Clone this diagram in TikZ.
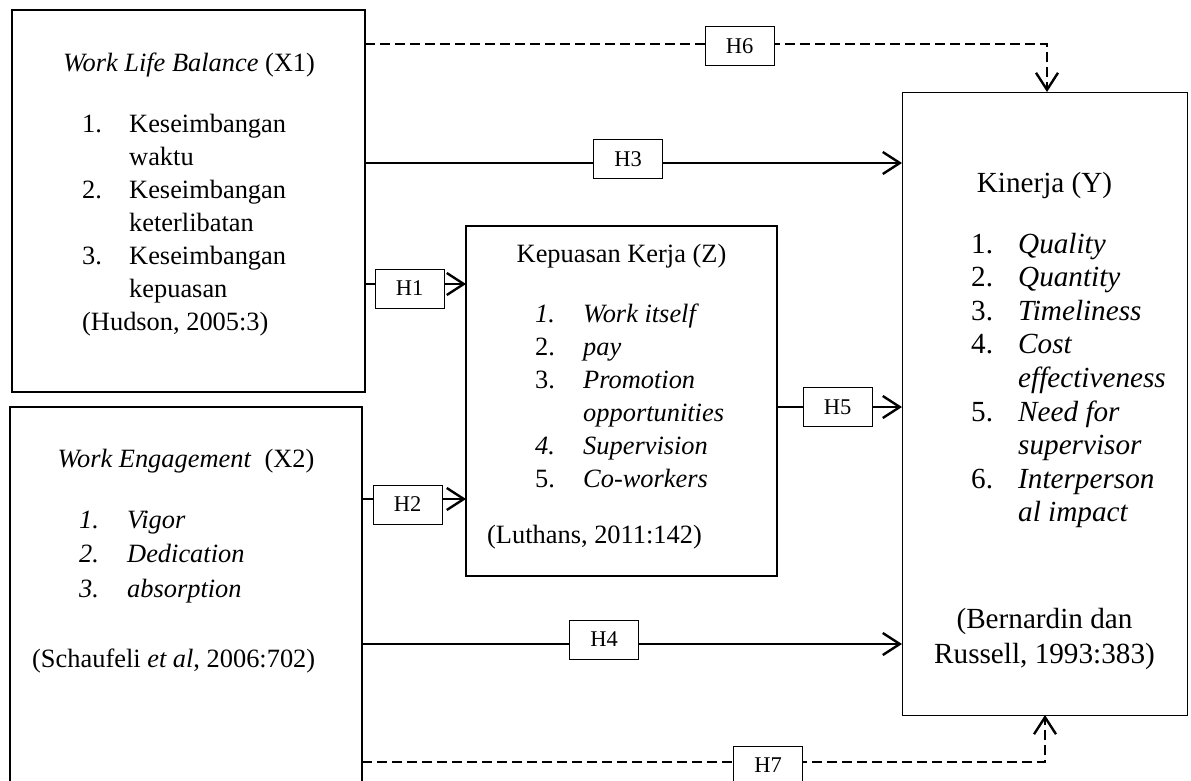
\documentclass[tikz,border=0pt]{standalone}
\usepackage{fontspec}
\setmainfont{Liberation Serif}
\usetikzlibrary{arrows.meta}
\begin{document}
\begin{tikzpicture}[x=1pt,y=-1pt,
  box/.style={draw,inner sep=0pt,outer sep=0pt,fill=white},
  hbox/.style={draw,line width=0.9pt,fill=white,inner sep=0pt,outer sep=0pt,minimum width=69pt,minimum height=39pt,font=\fontsize{22.5}{25}\selectfont},
  txt/.style={anchor=base west,inner sep=0pt,font=\fontsize{26.4}{30}\selectfont},
  txtc/.style={anchor=base,inner sep=0pt,font=\fontsize{26.4}{30}\selectfont},
  ytxt/.style={anchor=base west,inner sep=0pt,font=\fontsize{29.2}{32}\selectfont},
  ytxtc/.style={anchor=base,inner sep=0pt,font=\fontsize{29.2}{32}\selectfont},
  conn/.style={line width=2.4pt,-{Straight Barb[length=17pt,width=22pt]}},
  dconn/.style={conn,dash pattern=on 10pt off 5pt}]
\useasboundingbox (0,0) rectangle (1191,780);
\fill[white] (0,0) rectangle (1191,780);
\clip (0,0) rectangle (1191,780);
% main boxes
\node[box,line width=2pt,minimum width=353pt,minimum height=382pt] (X1) at (188.5,201) {};
\node[box,line width=2pt,minimum width=352pt,minimum height=400pt] (X2) at (186,607) {};
\node[box,line width=1.3pt,minimum width=311pt,minimum height=350pt] (Z) at (621.5,401) {};
\node[box,line width=1pt,minimum width=285pt,minimum height=623pt] (Y) at (1044.5,403.5) {};
% line levels
\coordinate (c1) at (0,284);
\coordinate (c2) at (0,499);
\coordinate (c3) at (0,163);
\coordinate (c4) at (0,644);
\coordinate (c5) at (0,407);
\coordinate (c6) at (0,44);
\coordinate (c7) at (0,762);
% connectors
\draw[conn] (X1.east |- c1) -- (Z.west |- c1);
\draw[conn] (X2.east |- c2) -- (Z.west |- c2);
\draw[conn] (X1.east |- c3) -- (Y.west |- c3);
\draw[conn] (X2.east |- c4) -- (Y.west |- c4);
\draw[conn] (Z.east |- c5) -- (Y.west |- c5);
\draw[dconn] (X1.east |- c6) -| ([xshift=2.5pt]Y.north);
\draw[dconn] (X2.east |- c7) -| ([xshift=0.5pt]Y.south);
% hypothesis labels
\node[hbox] (H1) at (409.5,288.5) {H1};
\node[hbox] (H2) at (407.5,504.5) {H2};
\node[hbox] (H3) at (628,159) {H3};
\node[hbox] (H4) at (604,639.5) {H4};
\node[hbox] (H5) at (837.5,407) {H5};
\node[hbox] (H6) at (739.5,46) {H6};
\node[hbox] (H7) at (768,765.5) {H7};
% X1 text
\node[txtc] (a0) at (189,71) {\textit{Work Life Balance} (X1)};
\node[txt] (a1n) at (82,132) {1.};
\node[txt] (a1) at (129,132) {Keseimbangan};
\node[txt] (a1b) at (129,165) {waktu};
\node[txt] (a2n) at (82,198) {2.};
\node[txt] (a2) at (129,198) {Keseimbangan};
\node[txt] (a2b) at (129,231) {keterlibatan};
\node[txt] (a3n) at (82,264) {3.};
\node[txt] (a3) at (129,264) {Keseimbangan};
\node[txt] (a3b) at (129,297) {kepuasan};
\node[txt] (a4) at (82,330) {(Hudson, 2005:3)};
% X2 text
\node[txtc] (b0) at (186,467) {\textit{Work Engagement}~~(X2)};
\node[txt] (b1n) at (79,528) {\textit{1.}};
\node[txt] (b1) at (127,528) {\textit{Vigor}};
\node[txt] (b2n) at (79,562.5) {\textit{2.}};
\node[txt] (b2) at (127,562.5) {\textit{Dedication}};
\node[txt] (b3n) at (79,597) {\textit{3.}};
\node[txt] (b3) at (127,597) {\textit{absorption}};
\node[txt] (b4) at (32,667) {(Schaufeli \textit{et al}, 2006:702)};
% Z text
\node[txtc] (z0) at (621.5,262) {Kepuasan Kerja (Z)};
\node[txt] (z1n) at (535,322) {\textit{1.}};
\node[txt] (z1) at (583,322) {\textit{Work itself}};
\node[txt] (z2n) at (535,355) {2.};
\node[txt] (z2) at (583,355) {\textit{pay}};
\node[txt] (z3n) at (535,388) {3.};
\node[txt] (z3) at (583,388) {\textit{Promotion}};
\node[txt] (z3b) at (583,421) {\textit{opportunities}};
\node[txt] (z4n) at (535,454) {\textit{4.}};
\node[txt] (z4) at (583,454) {\textit{Supervision}};
\node[txt] (z5n) at (535,487) {5.};
\node[txt] (z5) at (583,487) {\textit{Co-workers}};
\node[txt] (z6) at (487,543) {(Luthans, 2011:142)};
% Y text
\node[ytxtc] (y0) at (1044.5,192) {Kinerja (Y)};
\node[ytxt] (y1n) at (971,253) {1.};
\node[ytxt] (y1) at (1018,253) {\textit{Quality}};
\node[ytxt] (y2n) at (971,286.6) {2.};
\node[ytxt] (y2) at (1018,286.6) {\textit{Quantity}};
\node[ytxt] (y3n) at (971,320.2) {3.};
\node[ytxt] (y3) at (1018,320.2) {\textit{Timeliness}};
\node[ytxt] (y4n) at (971,353.8) {4.};
\node[ytxt] (y4) at (1018,353.8) {\textit{Cost}};
\node[ytxt] (y4b) at (1018,387.4) {\textit{effectiveness}};
\node[ytxt] (y5n) at (971,421) {5.};
\node[ytxt] (y5) at (1018,421) {\textit{Need for}};
\node[ytxt] (y5b) at (1018,454.6) {\textit{supervisor}};
\node[ytxt] (y6n) at (971,488.2) {6.};
\node[ytxt] (y6) at (1018,488.2) {\textit{Interperson}};
\node[ytxt] (y6b) at (1018,521.8) {\textit{al impact}};
\node[ytxtc] (y7) at (1044.5,628) {(Bernardin dan};
\node[ytxtc] (y8) at (1044.5,663) {Russell, 1993:383)};
\end{tikzpicture}
\end{document}
